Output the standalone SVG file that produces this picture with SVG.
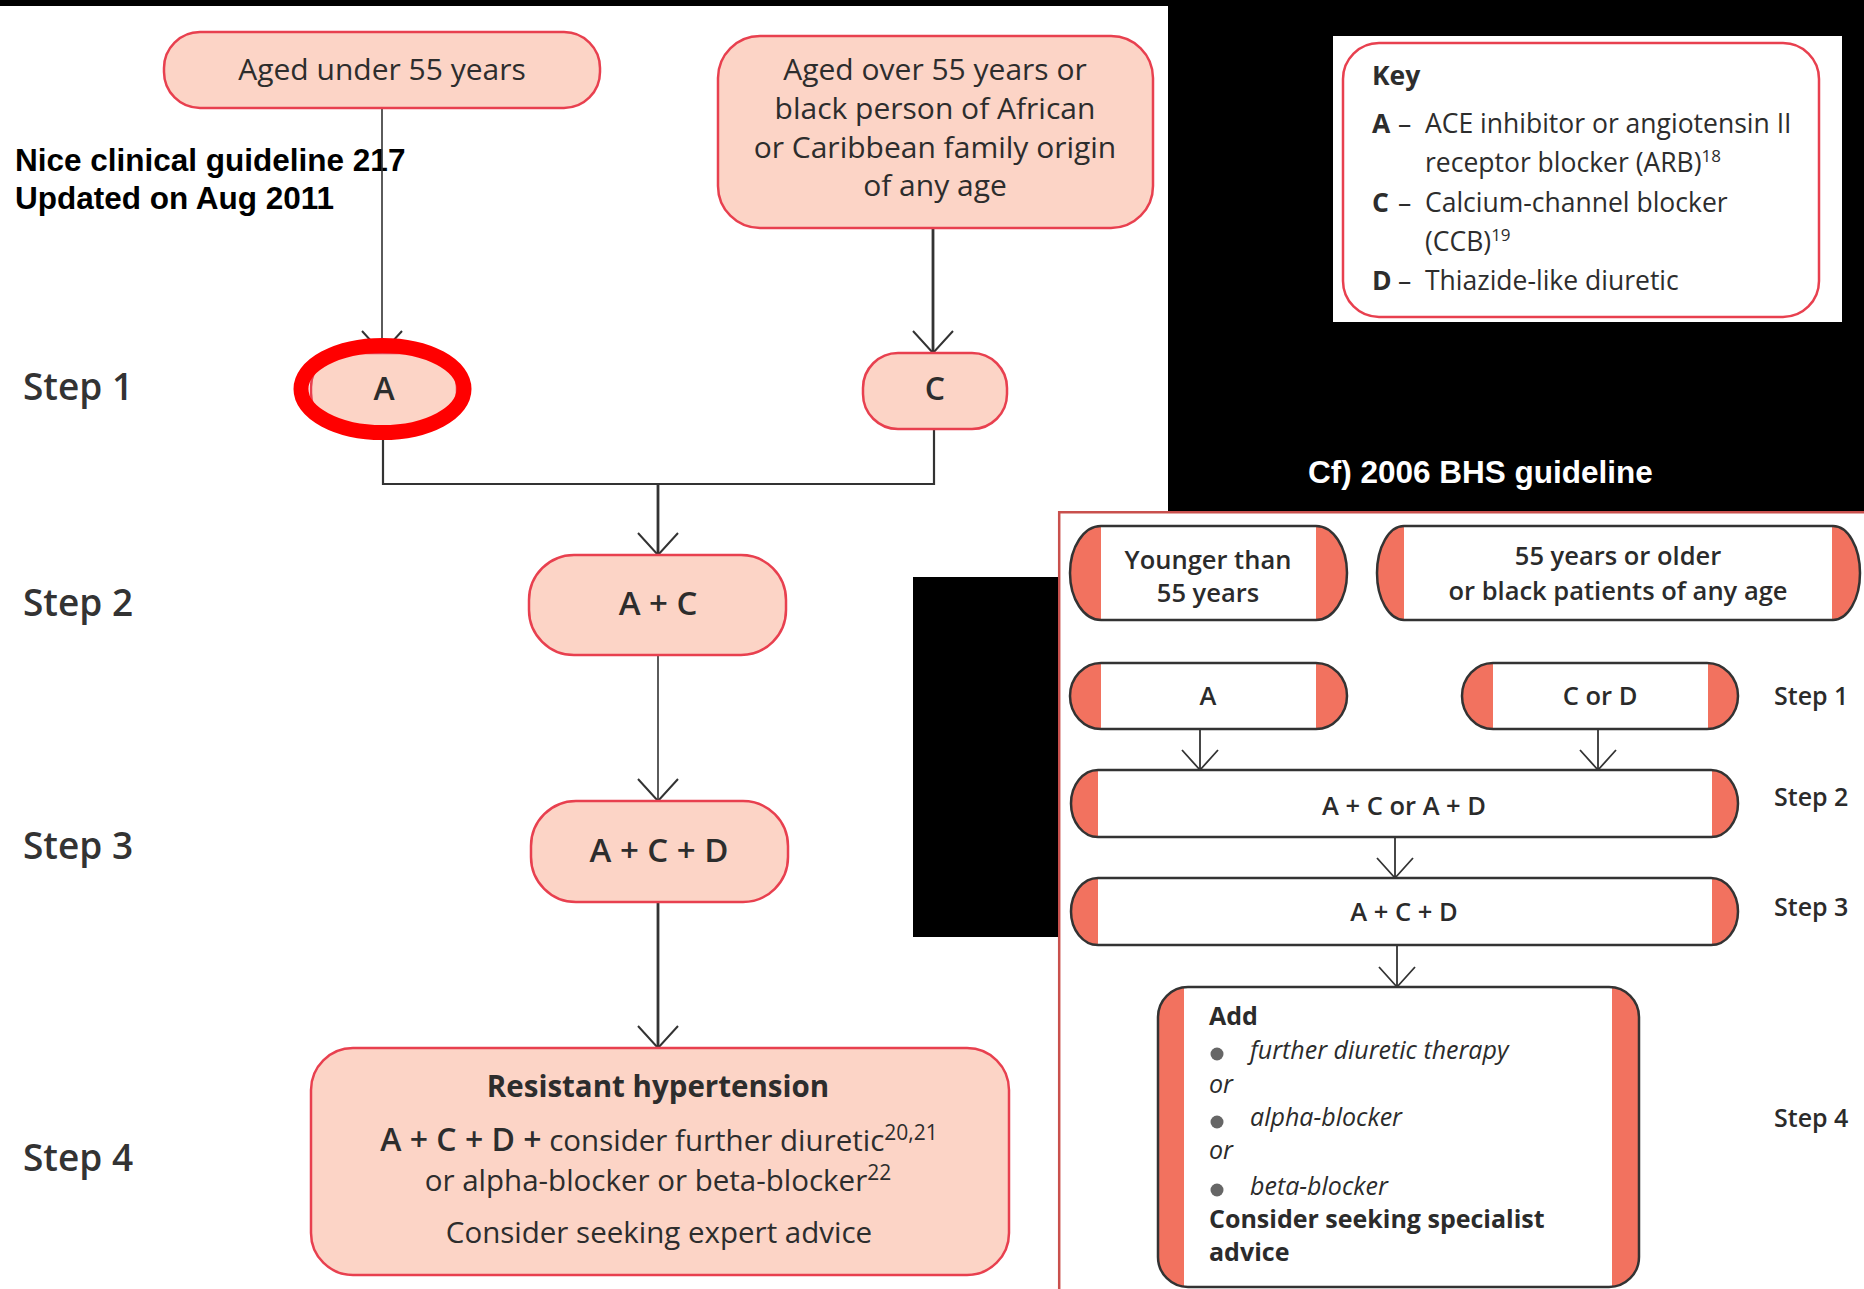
<svg xmlns="http://www.w3.org/2000/svg" width="1864" height="1289" viewBox="0 0 1864 1289">
<style>
.bg{fill:#000}
.wh{fill:#fff}
.pk{fill:#fcd4c6;stroke:#e8404f;stroke-width:2.5}
.t{font-family:"Open Sans","Noto Sans",sans-serif;fill:#2d2d2d}
.r30{font-size:30px}
.sb{font-weight:600}
.b{font-weight:700}
.step{font-family:"Open Sans","Noto Sans",sans-serif;font-size:37px;font-weight:600;fill:#333}
.note{font-family:"Liberation Sans",Arial,sans-serif;font-weight:700;font-size:31.5px}
.ln{stroke:#333;fill:none}
.thin{stroke-width:1.6}
.thick{stroke-width:2.8}
.cap{fill:#f2725f}
.mid{fill:#fff}
.ol{fill:none;stroke:#333;stroke-width:2.5}
.bt{font-family:"Open Sans","Noto Sans",sans-serif;font-size:25.5px;font-weight:600;fill:#2b2b2b}
.bs{font-family:"Open Sans","Noto Sans",sans-serif;font-size:25px;font-weight:600;fill:#2b2b2b}
.at{font-family:"Open Sans","Noto Sans",sans-serif;font-size:25px;fill:#2b2b2b}
.it{font-style:italic;font-weight:400}
.kt{font-family:"Open Sans","Noto Sans",sans-serif;font-size:26.5px;fill:#2d2d2d}
</style>
<defs>
<marker id="arrL" markerUnits="userSpaceOnUse" viewBox="-25 -23 27 46" refX="0" refY="0" markerWidth="27" markerHeight="46" orient="auto"><path d="M-22,-20 L0,0 L-22,20" fill="none" stroke="#333" stroke-width="2"/></marker>
<marker id="arrS" markerUnits="userSpaceOnUse" viewBox="-23 -21 25 42" refX="0" refY="0" markerWidth="25" markerHeight="42" orient="auto"><path d="M-20,-18 L0,0 L-20,18" fill="none" stroke="#333" stroke-width="1.8"/></marker>
</defs>

<!-- backgrounds -->
<rect class="bg" x="0" y="0" width="1864" height="1289"/>
<rect class="wh" x="0" y="6" width="1168" height="1283"/>
<rect class="wh" x="1333" y="36" width="509" height="286"/>
<rect class="wh" x="1058" y="511" width="806" height="778"/>
<path d="M1059.2,1289 V512.2 H1864" fill="none" stroke="#c9504d" stroke-width="2.5"/>
<rect class="bg" x="913" y="577" width="145" height="360"/>

<!-- annotations -->
<text class="note" fill="#000"><tspan x="15" y="171">Nice clinical guideline 217</tspan><tspan x="15" y="209">Updated on Aug 2011</tspan></text>
<text class="note" fill="#fff" x="1308" y="483">Cf) 2006 BHS guideline</text>

<!-- key -->
<g id="key">
<rect x="1343" y="43" width="476" height="274" rx="36" fill="#fff" stroke="#e8404f" stroke-width="2.5"/>
<text class="kt b" x="1372" y="85">Key</text>
<text class="kt" y="133"><tspan x="1372" class="b">A</tspan><tspan x="1398">–</tspan><tspan x="1425">ACE inhibitor or angiotensin II</tspan></text>
<text class="kt" y="172" x="1425">receptor blocker (ARB)<tspan dy="-10" font-size="17">18</tspan></text>
<text class="kt" y="212"><tspan x="1372" class="b">C</tspan><tspan x="1398">–</tspan><tspan x="1425">Calcium-channel blocker</tspan></text>
<text class="kt" y="251" x="1425">(CCB)<tspan dy="-10" font-size="17">19</tspan></text>
<text class="kt" y="290"><tspan x="1372" class="b">D</tspan><tspan x="1398">–</tspan><tspan x="1425">Thiazide-like diuretic</tspan></text>
</g>

<!-- NICE step labels -->
<g id="nice-steps">
<text class="step" x="23" y="400">Step 1</text>
<text class="step" x="23" y="616">Step 2</text>
<text class="step" x="23" y="859">Step 3</text>
<text class="step" x="23" y="1171">Step 4</text>
</g>

<!-- NICE connectors -->
<g id="nice-connectors">
<line class="ln thin" x1="382" y1="108" x2="382" y2="353" marker-end="url(#arrL)"/>
<line class="ln thick" x1="933" y1="228" x2="933" y2="353" marker-end="url(#arrL)"/>
<polyline class="ln" stroke-width="2.2" points="383,427 383,484 934,484 934,429"/>
<line class="ln thick" x1="658" y1="484" x2="658" y2="555" marker-end="url(#arrL)"/>
<line class="ln thin" x1="658" y1="655" x2="658" y2="801" marker-end="url(#arrL)"/>
<line class="ln thick" x1="658" y1="902" x2="658" y2="1048" marker-end="url(#arrL)"/>
</g>

<!-- NICE nodes -->
<g id="n-under55">
<rect class="pk" x="164" y="32" width="436" height="76" rx="36"/>
<text class="t r30" x="382" y="80" text-anchor="middle">Aged under 55 years</text>
</g>
<g id="n-over55">
<rect class="pk" x="718" y="36" width="435" height="192" rx="42"/>
<text class="t r30" text-anchor="middle"><tspan x="935" y="80">Aged over 55 years or</tspan><tspan x="935" y="119">black person of African</tspan><tspan x="935" y="158">or Caribbean family origin</tspan><tspan x="935" y="196">of any age</tspan></text>
</g>
<g id="n-A">
<rect class="pk" x="311" y="353" width="146" height="74" rx="34"/>
<text class="t sb" font-size="32" x="384" y="400" text-anchor="middle">A</text>
</g>
<g id="n-C">
<rect class="pk" x="863" y="353" width="144" height="76" rx="35"/>
<text class="t sb" font-size="32" x="935" y="400" text-anchor="middle">C</text>
</g>
<g id="n-AC">
<rect class="pk" x="529" y="555" width="257" height="100" rx="45"/>
<text class="t sb" font-size="33" x="658" y="615" text-anchor="middle">A + C</text>
</g>
<g id="n-ACD">
<rect class="pk" x="531" y="801" width="257" height="101" rx="45"/>
<text class="t sb" font-size="33" x="659" y="862" text-anchor="middle">A + C + D</text>
</g>
<g id="n-resistant">
<rect class="pk" x="311" y="1048" width="698" height="227" rx="42"/>
<text class="t b" font-size="29.5" x="658" y="1097" text-anchor="middle">Resistant hypertension</text>
<text class="t" font-size="29.5" x="659" y="1151" text-anchor="middle"><tspan class="sb" font-size="32">A + C + D +</tspan> consider further diuretic<tspan dy="-11" font-size="21">20,21</tspan></text>
<text class="t" font-size="29.5" x="658" y="1191" text-anchor="middle">or alpha-blocker or beta-blocker<tspan dy="-11" font-size="21">22</tspan></text>
<text class="t" font-size="29.5" x="659" y="1243" text-anchor="middle">Consider seeking expert advice</text>
</g>

<!-- highlight ring -->
<ellipse cx="382.5" cy="389" rx="81.5" ry="43.5" fill="none" stroke="#ff0000" stroke-width="15"/>

<!-- BHS connectors -->
<g id="bhs-connectors">
<line class="ln" stroke-width="1.8" x1="1200" y1="729" x2="1200" y2="770" marker-end="url(#arrS)"/>
<line class="ln" stroke-width="1.8" x1="1598" y1="729" x2="1598" y2="770" marker-end="url(#arrS)"/>
<line class="ln" stroke-width="1.8" x1="1395" y1="837" x2="1395" y2="878" marker-end="url(#arrS)"/>
<line class="ln" stroke-width="1.8" x1="1397" y1="945" x2="1397" y2="987" marker-end="url(#arrS)"/>
</g>

<!-- BHS nodes -->
<g id="b-younger">
<rect class="cap" x="1070" y="526" width="277" height="94" rx="31" ry="47"/>
<rect class="mid" x="1101" y="526" width="215" height="94"/>
<rect class="ol" x="1070" y="526" width="277" height="94" rx="31" ry="47"/>
<text class="bt" text-anchor="middle"><tspan x="1208" y="569">Younger than</tspan><tspan x="1208" y="602">55 years</tspan></text>
</g>
<g id="b-older">
<rect class="cap" x="1377" y="526" width="483" height="94" rx="27" ry="47"/>
<rect class="mid" x="1404" y="526" width="428" height="94"/>
<rect class="ol" x="1377" y="526" width="483" height="94" rx="27" ry="47"/>
<text class="bt" text-anchor="middle"><tspan x="1618" y="565">55 years or older</tspan><tspan x="1618" y="600">or black patients of any age</tspan></text>
</g>
<g id="b-A">
<rect class="cap" x="1070" y="663" width="277" height="66" rx="31" ry="33"/>
<rect class="mid" x="1101" y="663" width="215" height="66"/>
<rect class="ol" x="1070" y="663" width="277" height="66" rx="31" ry="33"/>
<text class="bt" x="1208" y="705" text-anchor="middle">A</text>
</g>
<g id="b-CorD">
<rect class="cap" x="1462" y="663" width="276" height="66" rx="31" ry="33"/>
<rect class="mid" x="1493" y="663" width="215" height="66"/>
<rect class="ol" x="1462" y="663" width="276" height="66" rx="31" ry="33"/>
<text class="bt" x="1600" y="705" text-anchor="middle">C or D</text>
</g>
<g id="b-ACorAD">
<rect class="cap" x="1071" y="770" width="667" height="67" rx="27" ry="33.5"/>
<rect class="mid" x="1098" y="770" width="614" height="67"/>
<rect class="ol" x="1071" y="770" width="667" height="67" rx="27" ry="33.5"/>
<text class="bt" x="1404" y="815" text-anchor="middle">A + C or A + D</text>
</g>
<g id="b-ACD">
<rect class="cap" x="1071" y="878" width="667" height="67" rx="27" ry="33.5"/>
<rect class="mid" x="1098" y="878" width="614" height="67"/>
<rect class="ol" x="1071" y="878" width="667" height="67" rx="27" ry="33.5"/>
<text class="bt" x="1404" y="921" text-anchor="middle">A + C + D</text>
</g>
<g id="b-add">
<rect class="cap" x="1158" y="987" width="481" height="300" rx="30"/>
<rect class="mid" x="1184" y="987" width="428" height="300"/>
<rect class="ol" x="1158" y="987" width="481" height="300" rx="30"/>
<text class="at b" x="1209" y="1025">Add</text>
<circle cx="1217" cy="1054" r="6.5" fill="#666"/>
<text class="at it" x="1250" y="1059">further diuretic therapy</text>
<text class="at it" x="1209" y="1093">or</text>
<circle cx="1217" cy="1122" r="6.5" fill="#666"/>
<text class="at it" x="1250" y="1126">alpha-blocker</text>
<text class="at it" x="1209" y="1159">or</text>
<circle cx="1217" cy="1190" r="6.5" fill="#666"/>
<text class="at it" x="1250" y="1195">beta-blocker</text>
<text class="at b" x="1209" y="1228">Consider seeking specialist</text>
<text class="at b" x="1209" y="1261">advice</text>
</g>

<!-- BHS step labels -->
<g id="bhs-steps">
<text class="bs" x="1774" y="705">Step 1</text>
<text class="bs" x="1774" y="806">Step 2</text>
<text class="bs" x="1774" y="916">Step 3</text>
<text class="bs" x="1774" y="1127">Step 4</text>
</g>
</svg>
